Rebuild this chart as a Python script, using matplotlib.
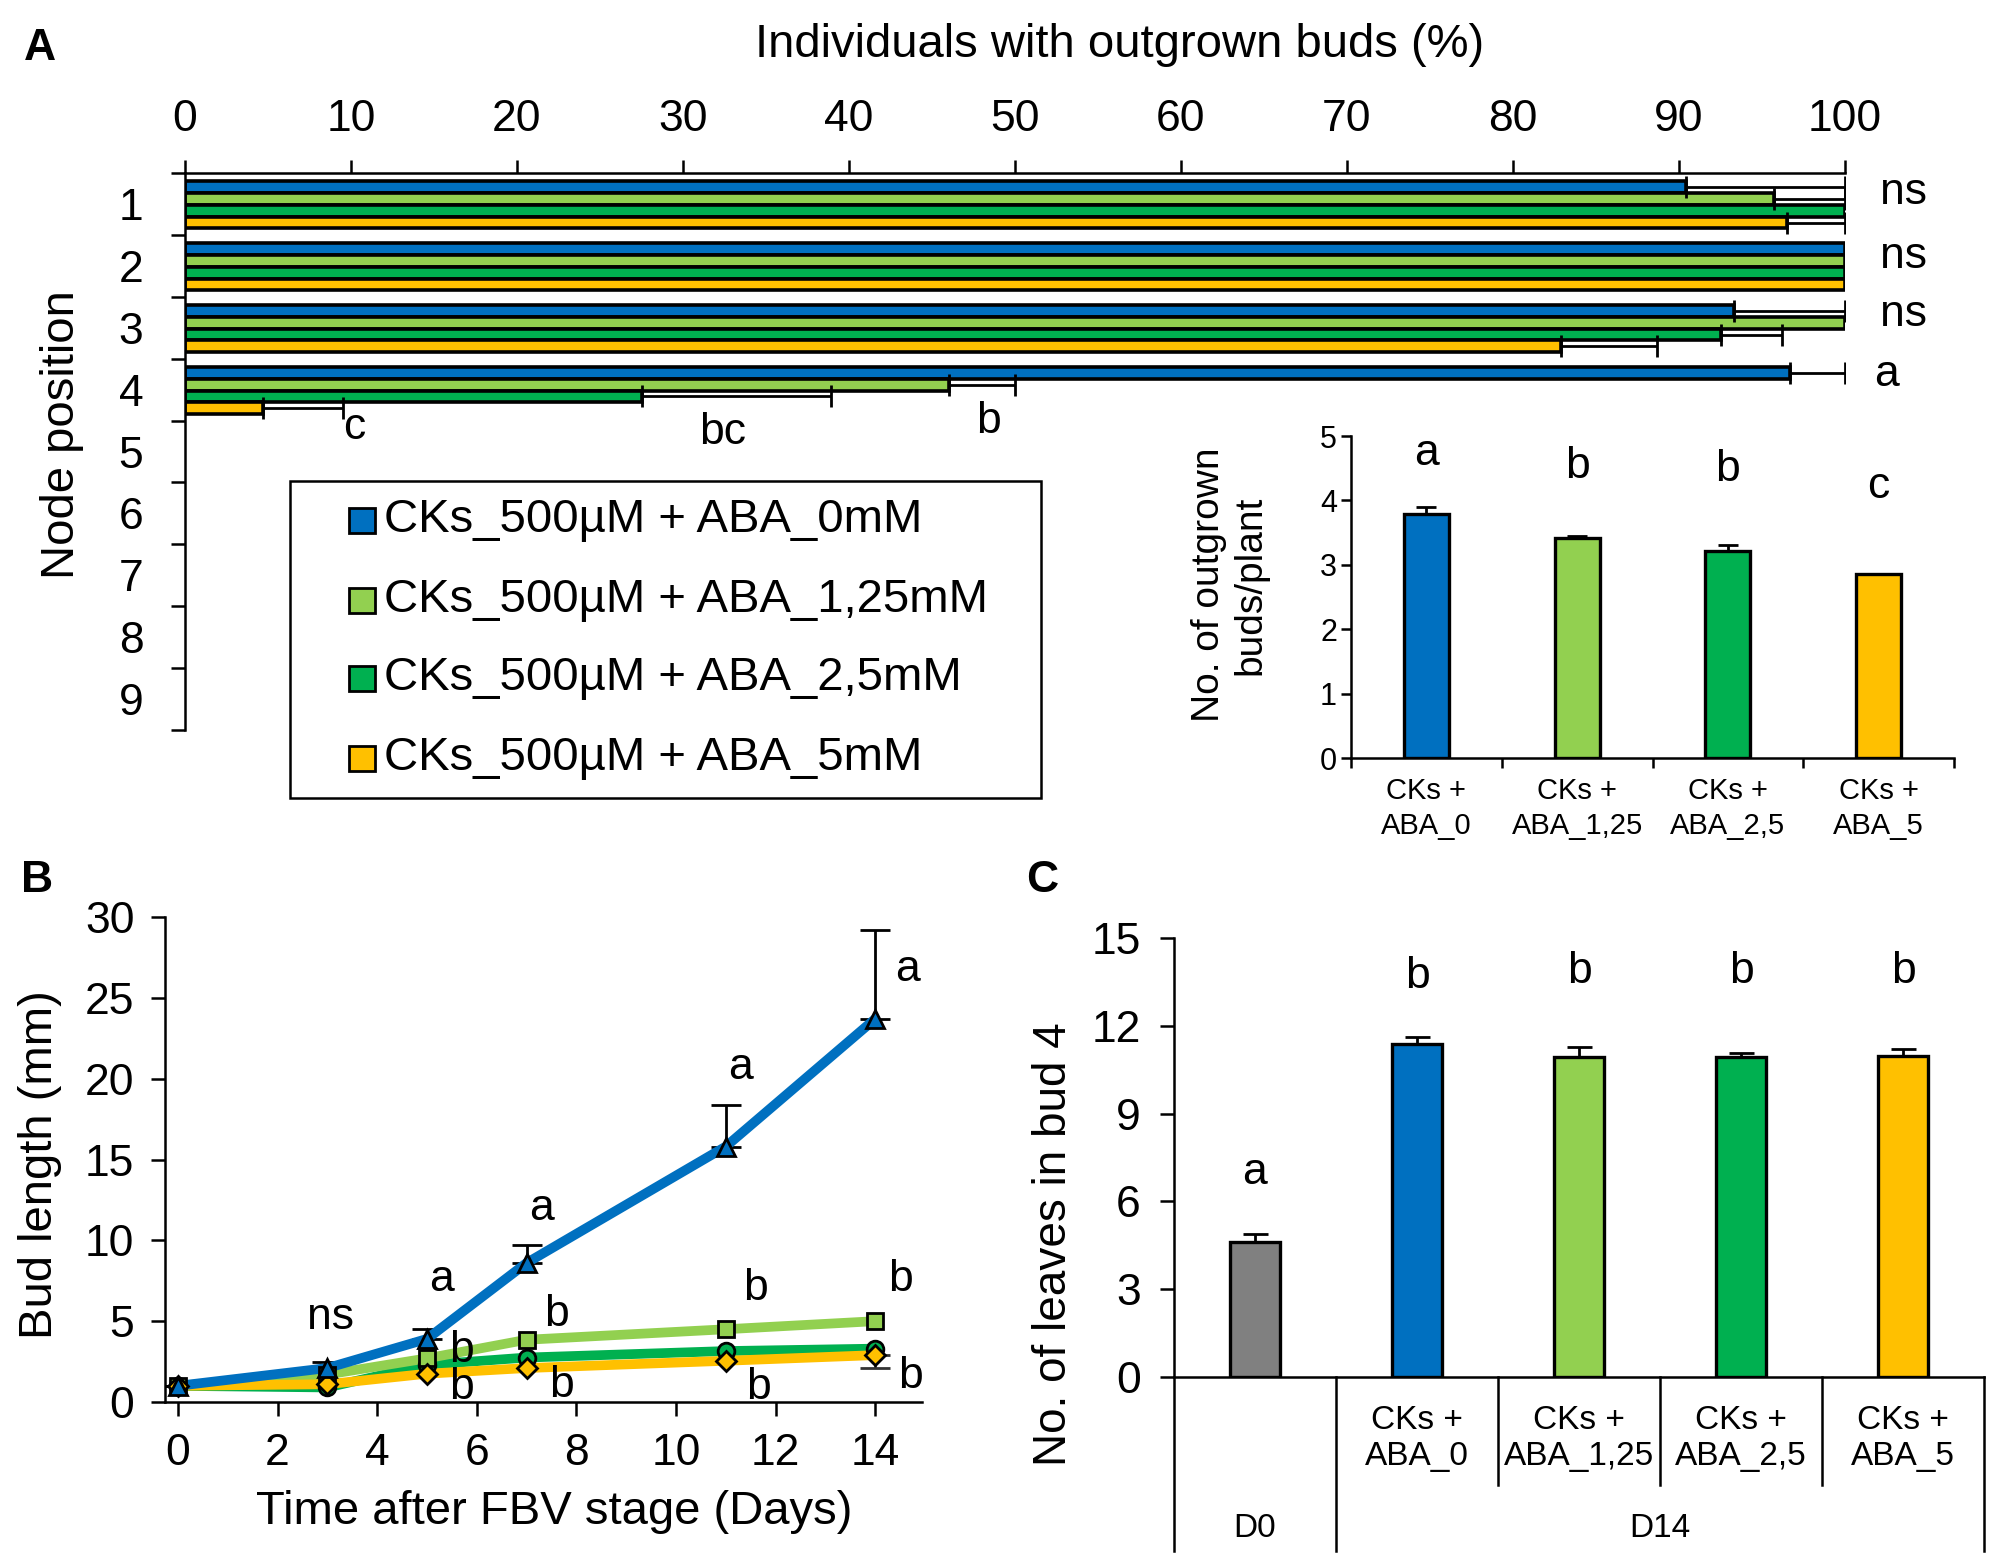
import numpy as np
import matplotlib
matplotlib.use('Agg')
import matplotlib.pyplot as plt
from matplotlib.patches import Rectangle
from matplotlib import transforms

plt.rcParams['font.family'] = ['Liberation Sans', 'DejaVu Sans']

W, H = 2005, 1555  # figure size in pixels (dpi 100)

def fx(x):
    return x / W

def fy(y):
    return 1 - y / H

# colours
c_blue = '#0070C0'
c_lgreen = '#92D050'
c_dgreen = '#00B050'
c_yellow = '#FFC000'
c_gray = '#808080'
cols = [c_blue, c_lgreen, c_dgreen, c_yellow]

treatments = ['CKs_500µM + ABA_0mM', 'CKs_500µM + ABA_1,25mM',
              'CKs_500µM + ABA_2,5mM', 'CKs_500µM + ABA_5mM']

# ---- panel A : individuals with outgrown buds (%) per node
node_labels = ['1', '2', '3', '4', '5', '6', '7', '8', '9']
nodes_with_data = [1, 2, 3, 4]
pct_aba0 = [90.4, 100, 93.3, 96.7]
pct_aba125 = [95.7, 100, 100, 46.0]
pct_aba25 = [100, 100, 92.5, 27.5]
pct_aba5 = [96.5, 100, 82.9, 4.7]
err_aba0 = [9.6, 0, 6.7, 3.3]
err_aba125 = [4.3, 0, 0, 4.0]
err_aba25 = [0, 0, 3.7, 11.4]
err_aba5 = [3.5, 0, 5.8, 4.8]
sig_right = ['ns', 'ns', 'ns', 'a']
sig_right_x = [103.5, 103.5, 103.5, 102.5]
sig_right_y = [0.82, 1.85, 2.79, 3.76]
sig_node4 = ['c', 'bc', 'b']
sig_node4_x = [10.2, 32.4, 48.4]
sig_node4_y = [4.61, 4.69, 4.52]

# ---- inset : no. of outgrown buds per plant
inset_cats = ['CKs +\nABA_0', 'CKs +\nABA_1,25', 'CKs +\nABA_2,5', 'CKs +\nABA_5']
buds_per_plant = [3.79, 3.41, 3.21, 2.85]
buds_err = [0.10, 0.04, 0.09, 0.0]
buds_sig = ['a', 'b', 'b', 'c']
buds_sig_y = [4.73, 4.52, 4.48, 4.21]

# ---- panel B : bud length (mm)
days = [0, 3, 5, 7, 11, 14]
len_aba0 = [1.0, 2.1, 3.9, 8.6, 15.8, 23.7]
len_aba125 = [1.0, 1.7, 2.7, 3.85, 4.5, 5.0]
len_aba25 = [1.0, 0.9, 2.3, 2.75, 3.15, 3.3]
len_aba5 = [1.0, 1.1, 1.75, 2.1, 2.55, 2.9]
len_err_aba0 = [0.0, 0.4, 0.6, 1.1, 2.6, 5.5]
len_err_aba5_low = [0.0, 0.0, 0.0, 0.0, 0.0, 0.8]
b_sig = ['ns', 'a', 'b', 'b', 'a', 'b', 'b', 'a', 'b', 'b', 'a', 'b', 'b']
b_sig_x = [3.07, 5.3, 5.7, 5.7, 7.3, 7.6, 7.7, 11.3, 11.6, 11.65, 14.65, 14.5, 14.7]
b_sig_y = [5.2, 7.6, 3.2, 0.9, 12.0, 5.4, 1.0, 20.7, 7.0, 0.9, 26.75, 7.6, 1.6]

# ---- panel C : no. of leaves in bud 4
c_cats = ['', 'CKs +\nABA_0', 'CKs +\nABA_1,25', 'CKs +\nABA_2,5', 'CKs +\nABA_5']
c_groups = ['D0', 'D14']
leaves = [4.6, 11.38, 10.92, 10.92, 10.96]
leaves_err = [0.27, 0.24, 0.36, 0.14, 0.24]
leaves_sig = ['a', 'b', 'b', 'b', 'b']
leaves_sig_y = [7.0, 13.7, 13.85, 13.85, 13.85]

fig = plt.figure(figsize=(W / 100, H / 100), dpi=100)
LW = 1.8

# ================= panel A =================
ax = fig.add_axes([fx(185), fy(730), fx(1845) - fx(185), fy(173) - fy(730)])
pos = np.array(nodes_with_data, dtype=float)
bh = 0.19
all_pct = [pct_aba0, pct_aba125, pct_aba25, pct_aba5]
all_err = [err_aba0, err_aba125, err_aba25, err_aba5]
for i in range(4):
    yy = pos + (i - 1.5) * bh + 0.015
    ax.barh(yy, all_pct[i], height=bh, color=cols[i], edgecolor='black', linewidth=2.6, zorder=2)
    e = np.array(all_err[i])
    m = e > 0
    ax.errorbar(np.array(all_pct[i])[m], yy[m], xerr=[np.zeros(m.sum()), e[m]], fmt='none',
                ecolor='black', elinewidth=2, capsize=8, capthick=2, zorder=3)
for s, x, y in zip(sig_right, sig_right_x, sig_right_y):
    ax.text(x, y, s, fontsize=32, ha='center', va='center', clip_on=False)
for s, x, y in zip(sig_node4, sig_node4_x, sig_node4_y):
    ax.text(x, y, s, fontsize=32, ha='center', va='center')

ax.set_xlim(0, 100)
ax.set_ylim(9.5, 0.5)
ax.xaxis.tick_top()
ax.set_xticks(np.arange(0, 101, 10))
ax.tick_params(axis='x', direction='out', length=9.5, width=LW, labelsize=32, pad=14)
ax.set_yticks(np.arange(0.5, 10, 1))
ax.set_yticks(np.arange(1, 10), node_labels, minor=True)
ax.tick_params(axis='y', which='major', direction='out', length=10, width=LW, labelleft=False)
ax.tick_params(axis='y', which='minor', length=0, labelsize=32, pad=30)
for sp in ['bottom', 'right']:
    ax.spines[sp].set_visible(False)
for sp in ['top', 'left']:
    ax.spines[sp].set_linewidth(LW)

fig.text(fx(1120), fy(45), 'Individuals with outgrown buds (%)', fontsize=34, ha='center', va='center')
fig.text(fx(62), fy(435), 'Node position', fontsize=34, rotation=90, ha='center', va='center')
fig.text(fx(40), fy(48), 'A', fontsize=32, fontweight='bold', ha='center', va='center')

# legend box (drawn by hand to match the layout)
fig.patches.append(Rectangle((fx(290), fy(798)), fx(1041) - fx(290), fy(481) - fy(798),
                             transform=fig.transFigure, fill=False, edgecolor='black', linewidth=LW))
row_y = [520, 600, 678, 758]
for lab, c, ry in zip(treatments, cols, row_y):
    fig.patches.append(Rectangle((fx(349), fy(ry + 13)), fx(26), 25 / H, transform=fig.transFigure,
                                 facecolor=c, edgecolor='black', linewidth=2))
    fig.text(fx(384), fy(ry), lab, fontsize=34, ha='left', va='center')

# ================= inset =================
ai = fig.add_axes([fx(1351), fy(758), fx(1954) - fx(1351), fy(436) - fy(758)])
xi = np.arange(4)
ai.bar(xi, buds_per_plant, width=0.3, color=cols, edgecolor='black', linewidth=2.4, zorder=2)
m = np.array(buds_err) > 0
ai.errorbar(xi[m], np.array(buds_per_plant)[m], yerr=[np.zeros(m.sum()), np.array(buds_err)[m]],
            fmt='none', ecolor='black', elinewidth=2, capsize=7, capthick=2, zorder=3)
for x, s, y in zip(xi, buds_sig, buds_sig_y):
    ai.text(x, y, s, fontsize=32, ha='center', va='center')
ai.set_xlim(-0.5, 3.5)
ai.set_ylim(0, 5)
ai.set_yticks(range(6))
ai.tick_params(axis='y', direction='out', length=7, width=LW, labelsize=22, pad=3)
ai.set_xticks(np.arange(-0.5, 4, 1))
ai.set_xticklabels([])
ai.set_xticks(xi, inset_cats, minor=True)
ai.tick_params(axis='x', which='major', direction='out', length=7, width=LW)
ai.tick_params(axis='x', which='minor', length=0, labelsize=21, pad=14)
for t in ai.get_xticklabels(minor=True):
    t.set_linespacing(1.3)
for sp in ['top', 'right']:
    ai.spines[sp].set_visible(False)
for sp in ['bottom', 'left']:
    ai.spines[sp].set_linewidth(LW)
fig.text(fx(1230), fy(585), 'No. of outgrown\nbuds/plant', fontsize=28, rotation=90,
         ha='center', va='center', linespacing=1.2)

# ================= panel B =================
bx = fig.add_axes([fx(165), fy(1402), fx(922) - fx(165), fy(917) - fy(1402)])
series_b = [(len_aba25, c_dgreen, 'o', 12), (len_aba125, c_lgreen, 's', 12),
            (len_aba5, c_yellow, 'D', 10), (len_aba0, c_blue, '^', 13)]
for k, (vals, c, mk, ms) in enumerate(series_b):
    bx.plot(days, vals, color=c, lw=7, zorder=3 + k, solid_capstyle='butt')
for k, (vals, c, mk, ms) in enumerate(series_b):
    bx.plot(days, vals, ls='none', marker=mk, ms=ms, mfc=c, mec='black', mew=2,
            zorder=8 + k, clip_on=False)
bx.errorbar(days, len_aba0, yerr=[np.zeros(len(days)), len_err_aba0], fmt='none', ecolor='black',
            elinewidth=2, capsize=11, capthick=2, zorder=2)
bx.errorbar(days[-1:], len_aba5[-1:], yerr=[len_err_aba5_low[-1:], [0]], fmt='none', ecolor='#333333',
            elinewidth=2, capsize=11, capthick=2, zorder=2)
for s, x, y in zip(b_sig, b_sig_x, b_sig_y):
    bx.text(x, y, s, fontsize=32, ha='center', va='center', zorder=20)
bx.set_xlim(-0.26, 14.94)
bx.set_ylim(0, 30)
bx.set_xticks(range(0, 15, 2))
bx.set_yticks(range(0, 31, 5))
bx.tick_params(axis='both', direction='out', length=10, width=LW, labelsize=32)
bx.tick_params(axis='x', pad=12)
bx.tick_params(axis='y', pad=12)
for sp in ['top', 'right']:
    bx.spines[sp].set_visible(False)
for sp in ['bottom', 'left']:
    bx.spines[sp].set_linewidth(LW)
fig.text(fx(554), fy(1512), 'Time after FBV stage (Days)', fontsize=34, ha='center', va='center')
fig.text(fx(40), fy(1165), 'Bud length (mm)', fontsize=34, rotation=90, ha='center', va='center')
fig.text(fx(37), fy(880), 'B', fontsize=32, fontweight='bold', ha='center', va='center')

# ================= panel C =================
cx = fig.add_axes([fx(1174), fy(1377), fx(1984) - fx(1174), fy(938) - fy(1377)])
xc = np.arange(5)
cx.bar(xc, leaves, width=0.31, color=[c_gray] + cols, edgecolor='black', linewidth=2.4, zorder=2)
cx.errorbar(xc, leaves, yerr=[np.zeros(5), leaves_err], fmt='none', ecolor='black',
            elinewidth=2, capsize=9, capthick=2, zorder=3)
for x, s, y in zip(xc, leaves_sig, leaves_sig_y):
    cx.text(x, y, s, fontsize=32, ha='center', va='center')
cx.set_xlim(-0.5, 4.5)
cx.set_ylim(0, 15)
cx.set_yticks(range(0, 16, 3))
cx.tick_params(axis='y', direction='out', length=10, width=LW, labelsize=32, pad=14)
cx.set_xticks(xc, c_cats)
cx.tick_params(axis='x', length=0, labelsize=24, pad=20)
for t in cx.get_xticklabels():
    t.set_linespacing(1.2)
for sp in ['top', 'right', 'left']:
    cx.spines[sp].set_visible(False)
cx.spines['bottom'].set_linewidth(LW)
trans = transforms.blended_transform_factory(cx.transData, cx.transAxes)
for xb in [-0.5, 0.5, 4.5]:
    cx.plot([xb, xb], [1 if xb < 0 else 0, -0.396], transform=trans, color='black', lw=LW, clip_on=False)
for xb in [1.5, 2.5, 3.5]:
    cx.plot([xb, xb], [0, -0.246], transform=trans, color='black', lw=LW, clip_on=False)
cx.text(0, -0.344, c_groups[0], transform=trans, fontsize=24, ha='center', va='center')
cx.text(2.5, -0.344, c_groups[1], transform=trans, fontsize=24, ha='center', va='center')
fig.text(fx(1054), fy(1244), 'No. of leaves in bud 4', fontsize=33, rotation=90, ha='center', va='center')
fig.text(fx(1042), fy(880), 'C', fontsize=32, fontweight='bold', ha='center', va='center')

fig.savefig('out.png', dpi=100)
